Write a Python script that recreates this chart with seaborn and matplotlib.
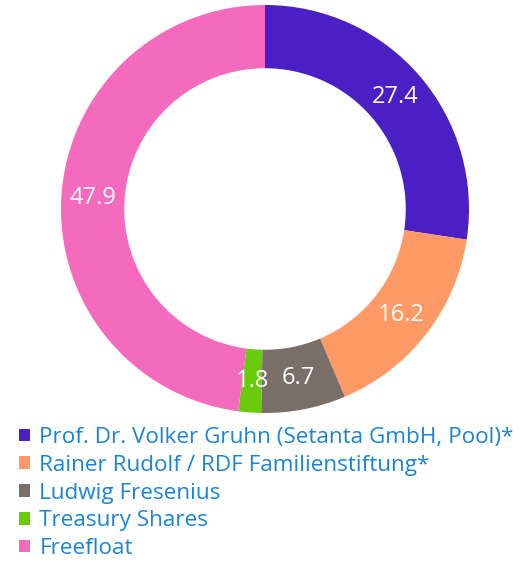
"""
Aktionärsstruktur als Donut-Diagramm, Legende darunter.
"""

import numpy as np
import matplotlib
import matplotlib.pyplot as plt
from matplotlib.patches import Patch
import seaborn as sns

matplotlib.use("Agg")

LABELS = [
    "Prof. Dr. Volker Gruhn (Setanta GmbH, Pool)*",
    "Rainer Rudolf / RDF Familienstiftung*",
    "Ludwig Fresenius",
    "Treasury Shares",
    "Freefloat",
]
SHARES = [27.4, 16.2, 6.7, 1.8, 47.9]
COLORS = ["#4a1fc4", "#ff9966", "#7a6f68", "#6acb0c", "#f46bbd"]
TEXT_BLUE = "#1a84d6"

sns.set_theme(style="white")
plt.rcParams["font.family"] = ["Open Sans", "DejaVu Sans"]

W, H = 527, 564
fig = plt.figure(figsize=(W / 100, H / 100), dpi=100)

# Donut: Mittelpunkt ca. (265, 209) px, Radius ca. 204 px
cx, cy, r = 265, 209, 204
ax = fig.add_axes([(cx - r) / W, (H - cy - r) / H, 2 * r / W, 2 * r / H])
wedges, texts = ax.pie(
    SHARES,
    colors=COLORS,
    startangle=90,
    counterclock=False,
    wedgeprops={"width": 0.31, "linewidth": 0},
)
ax.set_xlim(-1, 1)
ax.set_ylim(-1, 1)
ax.set_aspect("equal")
ax.axis("off")

# Werte mittig im Ring
for w, val in zip(wedges, SHARES):
    ang = np.deg2rad((w.theta1 + w.theta2) / 2)
    rr = 0.845
    ax.text(rr * np.cos(ang), rr * np.sin(ang), f"{val:.1f}",
            ha="center", va="center", color="white", fontsize=17)

handles = [Patch(facecolor=c, edgecolor="none") for c in COLORS]
leg = fig.legend(
    handles, LABELS,
    loc="upper left",
    bbox_to_anchor=(19 / W, 1 - 427 / H),
    frameon=False,
    fontsize=16.2,
    handlelength=0.5,
    handleheight=0.5,
    handletextpad=0.4,
    labelspacing=0.3,
    borderaxespad=0,
    borderpad=0,
)
for t in leg.get_texts():
    t.set_color(TEXT_BLUE)

fig.savefig("out.png", dpi=100)
plt.close(fig)
